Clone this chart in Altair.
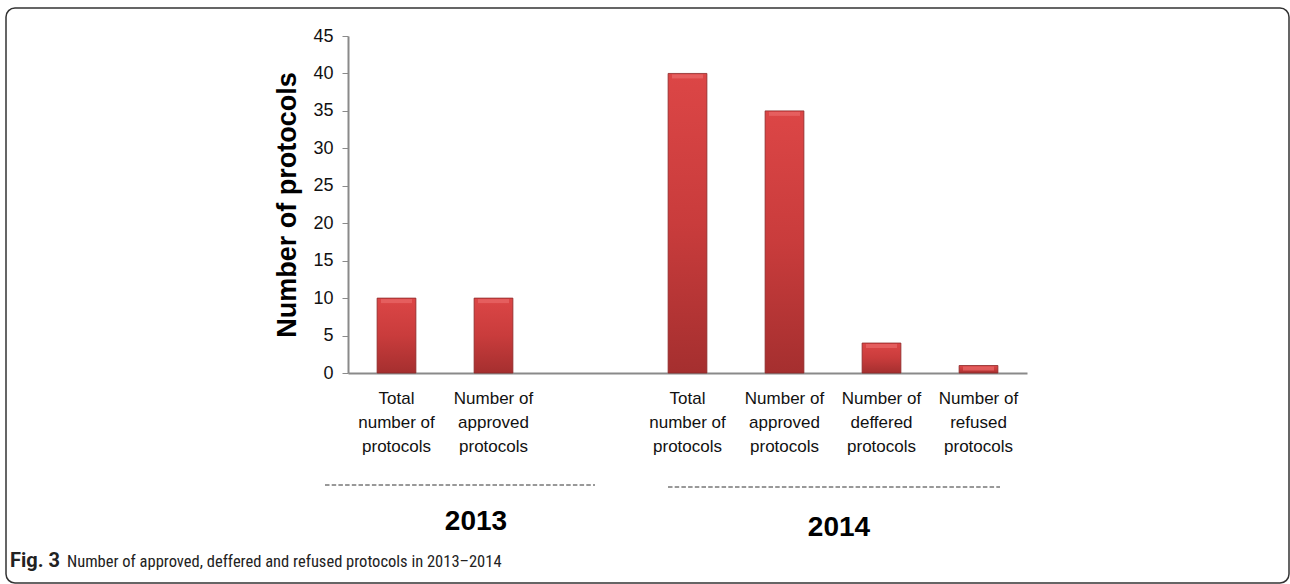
import altair as alt
import pandas as pd

# Protocol counts per category and year
years = ["2013", "2013", "2014", "2014", "2014", "2014"]
categories = [
    "Total|number of|protocols",
    "Number of|approved|protocols",
    "Total|number of|protocols",
    "Number of|approved|protocols",
    "Number of|deffered|protocols",
    "Number of|refused|protocols",
]
counts = [10, 10, 40, 35, 4, 1]
year_labels = ["2013", "2014"]
y_ticks = [0, 5, 10, 15, 20, 25, 30, 35, 40, 45]

keys = [f"{y}|{c}" for y, c in zip(years, categories)]
# an empty slot separates the two years
domain = keys[:2] + ["gap"] + keys[2:]

df = pd.DataFrame({"slot": keys, "count": counts})

W, H = 679, 337
LEFT, TOP = 348, 36
FONT = "Liberation Sans"
CAP_FONT = "Roboto Condensed, Liberation Sans Narrow, Roboto, sans-serif"

xscale = alt.Scale(domain=domain, paddingInner=0.6, paddingOuter=0.3)
yscale = alt.Scale(domain=[0, 45], nice=False)

x_enc = alt.X(
    "slot:N",
    scale=xscale,
    sort=domain,
    axis=alt.Axis(
        title=None,
        labelAngle=0,
        labelExpr="datum.value == 'gap' ? '' : slice(split(datum.value, '|'), 1)",
        labelFont=FONT,
        labelFontSize=17,
        labelLineHeight=24,
        labelColor="#111",
        labelPadding=17,
        ticks=False,
        domainColor="#8a8a8a",
        domainWidth=2,
        labelLimit=200,
        labelOverlap=False,
    ),
)
y_enc = alt.Y(
    "count:Q",
    scale=yscale,
    axis=alt.Axis(
        title="Number of protocols",
        values=y_ticks,
        tickCount=10,
        grid=False,
        labelFont=FONT,
        labelFontSize=18,
        labelColor="#111",
        labelPadding=9,
        labelOverlap=False,
        tickSize=6,
        tickColor="#8a8a8a",
        domainColor="#8a8a8a",
        domainWidth=2,
        titleFont=FONT,
        titleFontSize=27,
        titleFontWeight="bold",
        titleColor="#000",
        titlePadding=11,
    ),
)

bar_fill = alt.Gradient(
    gradient="linear",
    stops=[
        alt.GradientStop(color="#dc4646", offset=0),
        alt.GradientStop(color="#c93c3c", offset=0.5),
        alt.GradientStop(color="#a52f2f", offset=1),
    ],
    x1=0, x2=0, y1=0, y2=1,
)

base = alt.Chart(df).encode(x=x_enc, y=y_enc)

bars = base.mark_bar(color=bar_fill, stroke="#8c2828", strokeWidth=0.8)

# lighter bevel along the top edge of each bar
bevel = base.mark_tick(color="#ea6a6a", thickness=4, size=31, yOffset=3)

# dashed brackets and year labels under each group
bracket_df = pd.DataFrame({"x": [325 - LEFT, 668 - LEFT], "x2": [595 - LEFT, 1000 - LEFT],
                           "y": [485 - TOP, 487 - TOP]})
brackets = alt.Chart(bracket_df).mark_rule(
    color="#333", strokeWidth=1, strokeDash=[4.5, 2.2]
).encode(x=alt.X("x:Q", scale=None), x2="x2:Q", y=alt.Y("y:Q", scale=None))

year_df = pd.DataFrame({"year": year_labels, "x": [476 - LEFT, 839 - LEFT], "y": [522 - TOP, 528 - TOP]})
year_text = alt.Chart(year_df).mark_text(
    font=FONT, fontSize=28, fontWeight="bold", color="#000", baseline="middle", align="center"
).encode(x=alt.X("x:Q", scale=None), y=alt.Y("y:Q", scale=None), text="year:N")

# figure caption
cap_bold = alt.Chart(pd.DataFrame({"t": ["Fig. 3"]})).mark_text(
    font="Roboto, sans-serif", fontSize=20, fontWeight="bold",
    color="#222", align="left", baseline="alphabetic"
).encode(x=alt.value(10 - LEFT), y=alt.value(567 - TOP), text="t:N")
cap_text = alt.Chart(pd.DataFrame({"t": ["Number of approved, deffered and refused protocols in 2013\u20132014"]})).mark_text(
    font=CAP_FONT, fontSize=16.5,
    color="#222", align="left", baseline="alphabetic"
).encode(x=alt.value(67 - LEFT), y=alt.value(567 - TOP), text="t:N")

# rounded frame around the figure
frame = alt.Chart(pd.DataFrame({"a": [0]})).mark_rect(
    fill="transparent", stroke="#333", strokeWidth=1.5, cornerRadius=9
).encode(
    x=alt.value(6 - LEFT), x2=alt.value(1289 - LEFT),
    y=alt.value(8 - TOP), y2=alt.value(583 - TOP),
)

chart = alt.layer(frame, bars, bevel, brackets, year_text, cap_bold, cap_text).properties(
    width=W,
    height=H,
    autosize=alt.AutoSizeParams(type="none"),
    padding={"left": LEFT, "top": TOP, "right": 1290 - LEFT - W, "bottom": 584 - TOP - H},
    background="white",
).configure_view(stroke=None)

chart.save("out.html", embed_options={"renderer": "svg", "actions": False})
